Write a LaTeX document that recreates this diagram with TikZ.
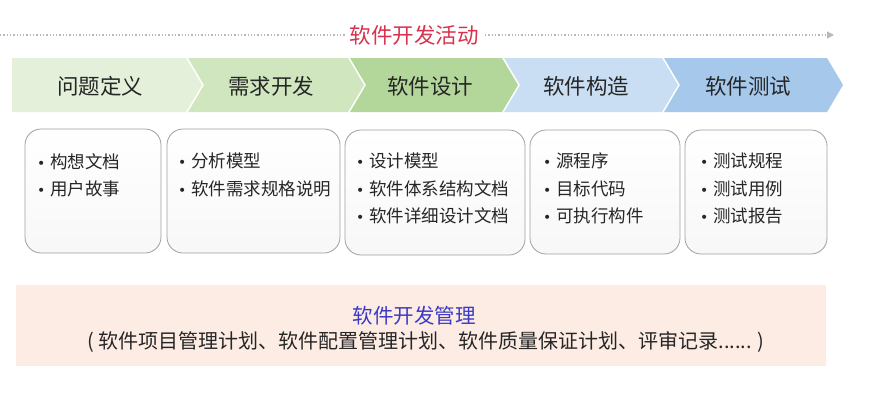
\documentclass[tikz,border=0pt]{standalone}
\usepackage{fontspec}
\setmainfont{Noto Sans CJK SC}
\newfontfamily\bulfont{DejaVu Sans}
\usetikzlibrary{arrows.meta}
\definecolor{cA}{HTML}{E4F0DA}
\definecolor{cB}{HTML}{CFE6BE}
\definecolor{cC}{HTML}{B3D69B}
\definecolor{cD}{HTML}{CADEF3}
\definecolor{cE}{HTML}{A6C8EB}
\definecolor{titred}{HTML}{D8324E}
\definecolor{mgblue}{HTML}{3A3AC6}
\definecolor{peach}{HTML}{FDECE4}
\definecolor{txt}{HTML}{262626}
\tikzset{
  chevlabel/.style={font=\fontsize{21.5}{24}\selectfont, text=txt, inner sep=0pt},
  docbox/.style={draw=gray!75, line width=0.8pt, rounded corners=16pt, top color=white, bottom color=gray!6},
  doclist/.style={anchor=north west, align=left, inner sep=0pt, text=txt, font=\fontsize{17.5}{27.5}\selectfont},
}
\newcommand{\bul}{\makebox[13pt][l]{\bulfont\fontsize{14}{12}\selectfont•}}
\begin{document}
\begin{tikzpicture}[x=1pt,y=-1pt]
\useasboundingbox (0,0) rectangle (874,400);
% top timeline
\coordinate (ls) at (0,35);
\coordinate (le) at (834,35);
\draw[gray!55, line width=1.3pt, dotted, -{Triangle[width=7pt,length=7pt,fill=gray!55]}] (ls) -- (le);
\node[fill=white, inner xsep=4pt, text=titred, font=\fontsize{21.5}{24}\selectfont] (title) at (414,35) {软件开发活动};
% chevrons
\fill[cA] (12,58) -- (186,58) -- (202,85) -- (186,112) -- (12,112) -- cycle;
\fill[cB] (188,58) -- (348,58) -- (364,85) -- (348,112) -- (188,112) -- (204,85) -- cycle;
\fill[cC] (350,58) -- (502,58) -- (518,85) -- (502,112) -- (350,112) -- (366,85) -- cycle;
\fill[cD] (504,58) -- (662,58) -- (678,85) -- (662,112) -- (504,112) -- (520,85) -- cycle;
\fill[cE] (664,58) -- (827,58) -- (843,85) -- (827,112) -- (664,112) -- (680,85) -- cycle;
\node[chevlabel] (p1) at (100,86) {问题定义};
\node[chevlabel] (p2) at (271,86) {需求开发};
\node[chevlabel] (p3) at (430,86) {软件设计};
\node[chevlabel] (p4) at (586,86) {软件构造};
\node[chevlabel] (p5) at (748,86) {软件测试};
% document boxes
\draw[docbox] (25,129) rectangle (161,253);
\draw[docbox] (167,129) rectangle (340,253);
\draw[docbox] (345,130) rectangle (525,255);
\draw[docbox] (530,130) rectangle (680,254);
\draw[docbox] (685,130) rectangle (827,254);
\node[doclist] (d1) at (37,153) {\bul 构想文档\\\bul 用户故事};
\node[doclist] (d2) at (178,153) {\bul 分析模型\\\bul 软件需求规格说明};
\node[doclist] (d3) at (356,153) {\bul 设计模型\\\bul 软件体系结构文档\\\bul 软件详细设计文档};
\node[doclist] (d4) at (543,153) {\bul 源程序\\\bul 目标代码\\\bul 可执行构件};
\node[doclist] (d5) at (700,153) {\bul 测试规程\\\bul 测试用例\\\bul 测试报告};
% management
\fill[peach] (16,285) rectangle (826,366);
\node[text=mgblue, inner sep=0pt, font=\fontsize{20.5}{24}\selectfont] (m1) at (414,316) {软件开发管理};
\node[text=txt, inner sep=0pt, font=\fontsize{20}{24}\selectfont] (m2) at (426,342) {( 软件项目管理计划、软件配置管理计划、软件质量保证计划、评审记录...... )};
\end{tikzpicture}
\end{document}
